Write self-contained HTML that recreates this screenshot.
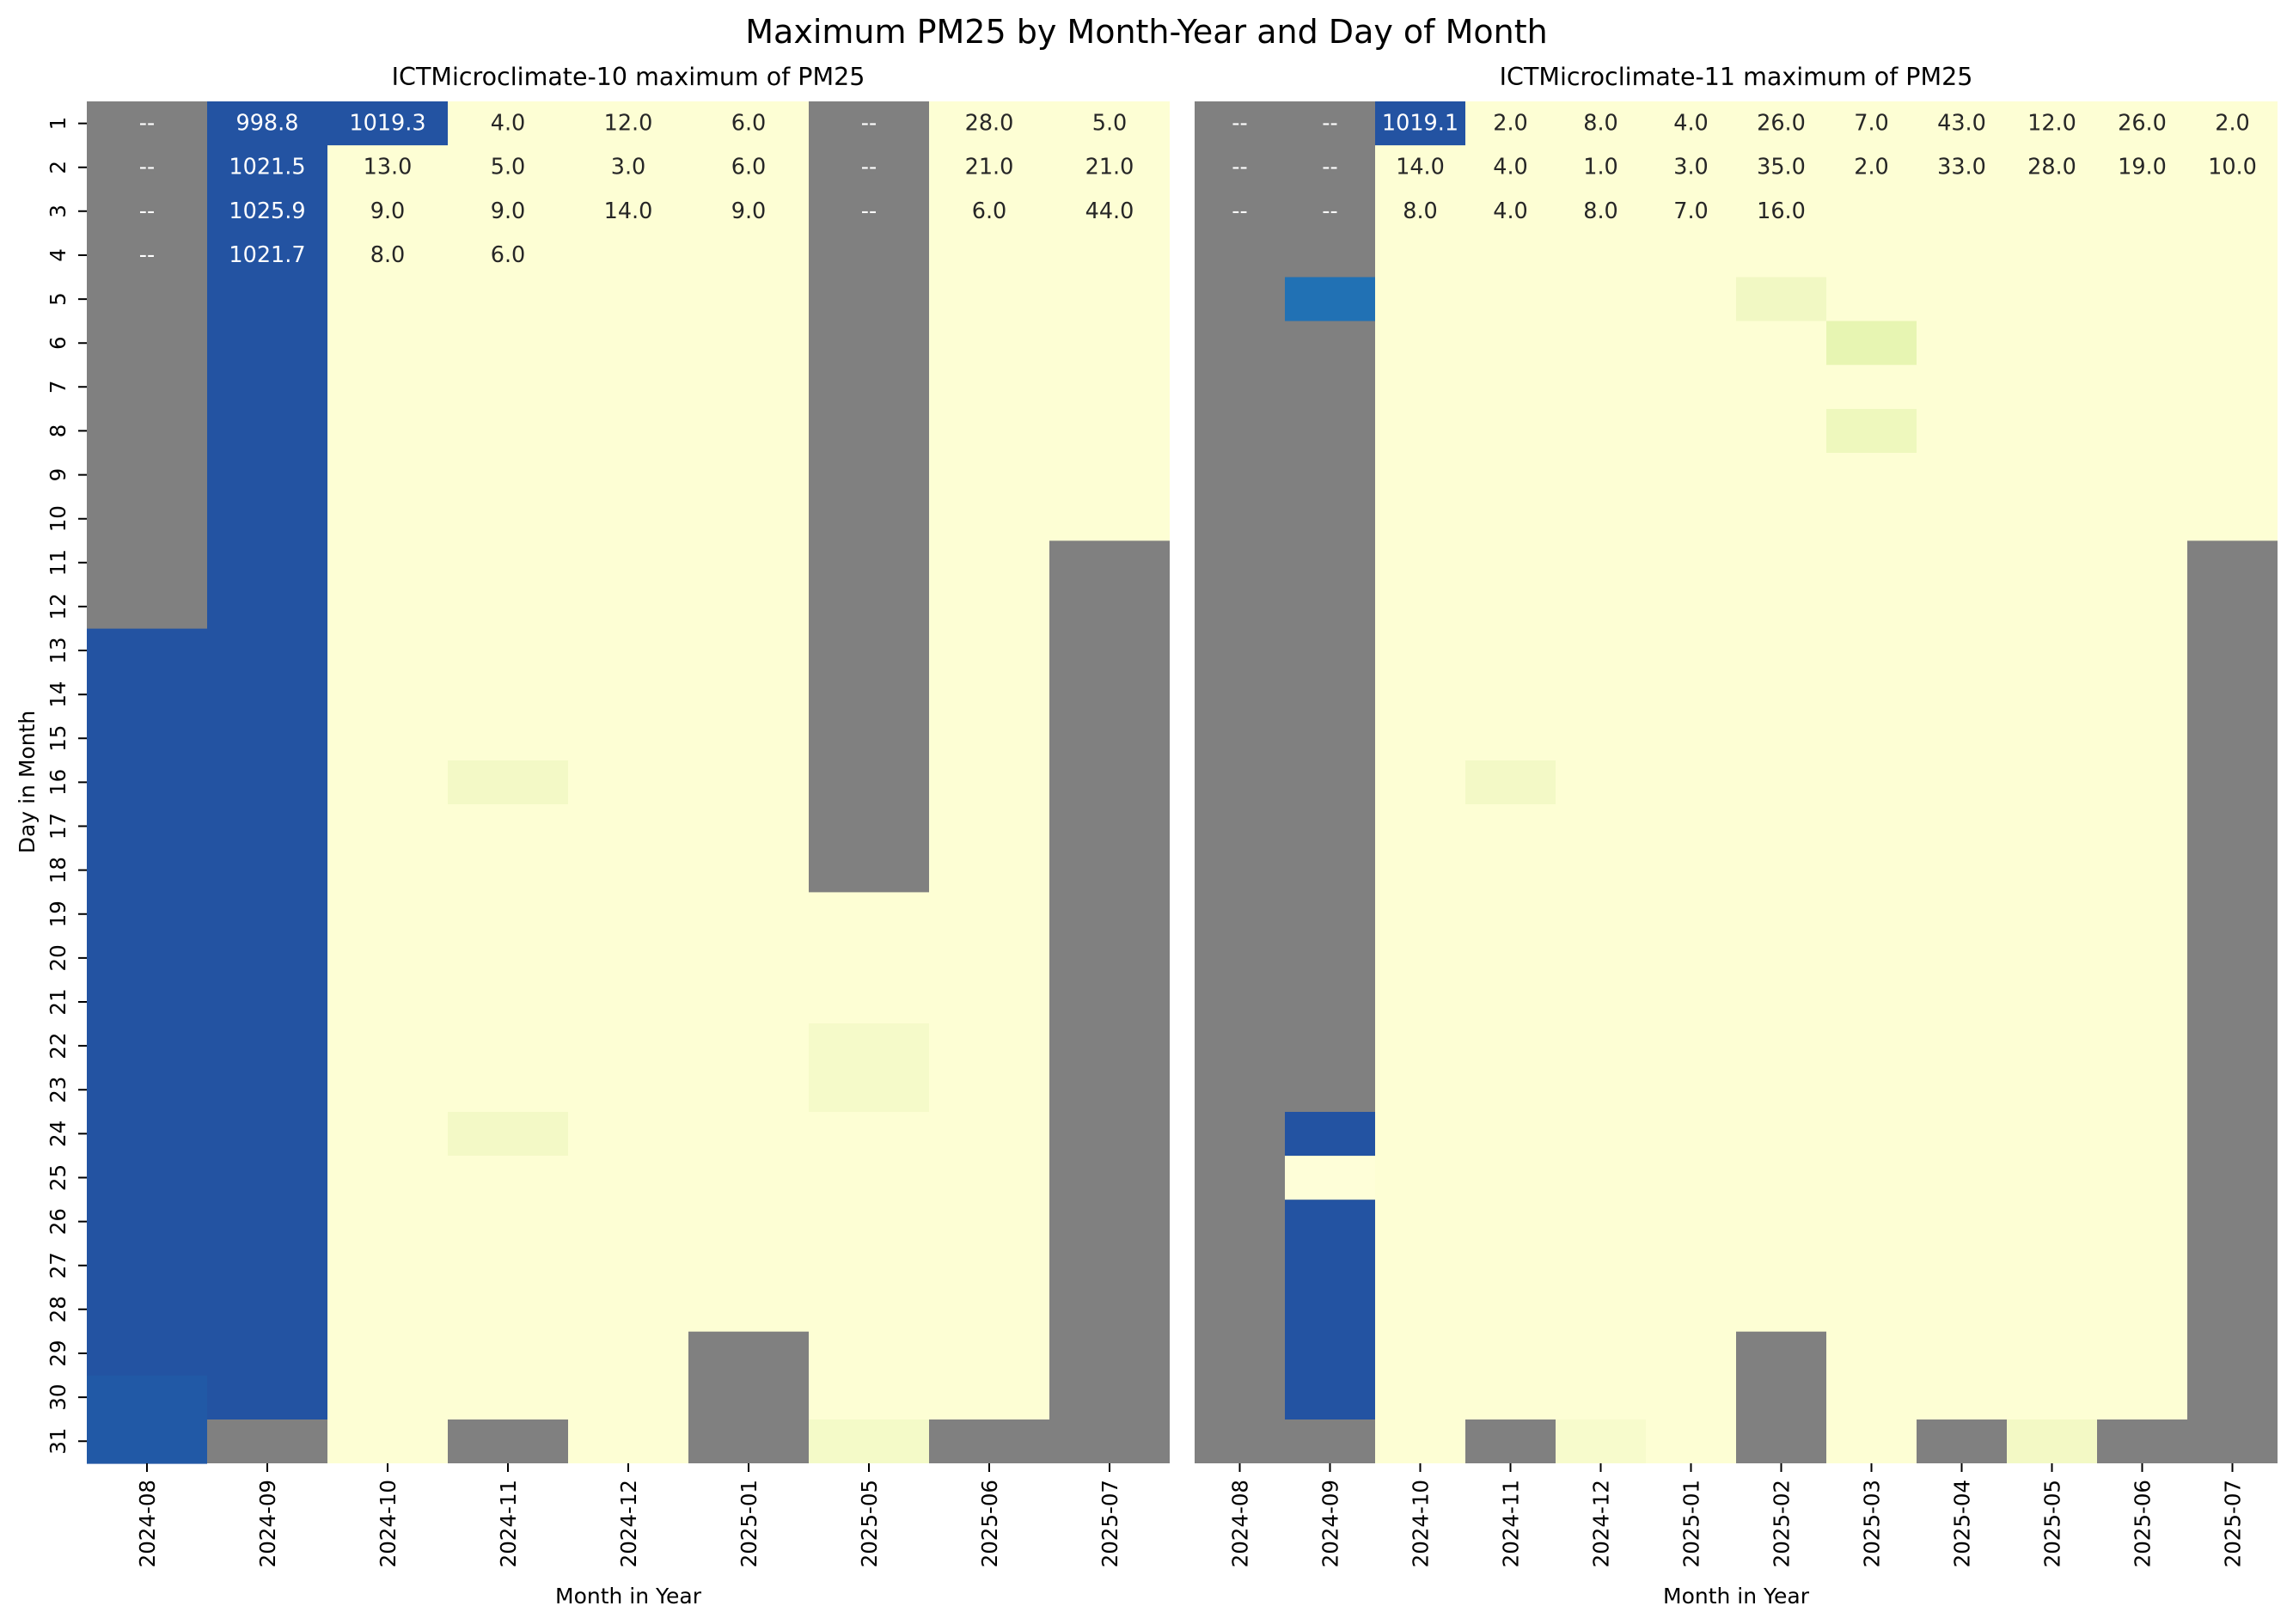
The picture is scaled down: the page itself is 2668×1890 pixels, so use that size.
<!DOCTYPE html>
<html><head><meta charset="utf-8"><style>
html,body{margin:0;padding:0;background:#fff;}
svg{display:block;font-family:"DejaVu Sans","Liberation Sans",sans-serif;}
.a{font-size:25.5px;text-anchor:middle;dominant-baseline:central;fill:#262626;}
.w{fill:#ffffff;}
.t{font-size:24.5px;fill:#000;}
</style></head><body>
<svg width="2668" height="1890" viewBox="0 0 2668 1890" xmlns="http://www.w3.org/2000/svg">
<rect width="2668" height="1890" fill="#fff"/>
<text x="1334" y="50" font-size="38" text-anchor="middle">Maximum PM25 by Month-Year and Day of Month</text>
<text x="731" y="99" font-size="28.5" text-anchor="middle">ICTMicroclimate-10 maximum of PM25</text>
<text x="2020" y="99" font-size="28.5" text-anchor="middle">ICTMicroclimate-11 maximum of PM25</text>

<!-- LEFT heatmap -->
<rect x="101" y="118" width="1260" height="1585" fill="#fdfed4"/>
<rect x="101" y="118" width="140" height="614" fill="#808080"/>
<rect x="101" y="731.6" width="140" height="972" fill="#2353a2"/>
<rect x="101" y="1600.8" width="140" height="102.2" fill="#2159a6"/>
<rect x="241" y="118" width="140" height="1534" fill="#2353a2"/>
<rect x="241" y="1652" width="140" height="51" fill="#808080"/>
<rect x="381" y="118" width="140" height="51.1" fill="#2353a2"/>
<rect x="521" y="885" width="140" height="51" fill="#f3f9c6"/>
<rect x="521" y="1294" width="140" height="51" fill="#f3f9c6"/>
<rect x="521" y="1652" width="140" height="51" fill="#808080"/>
<rect x="801" y="1549.7" width="140" height="153.3" fill="#808080"/>
<rect x="941" y="118" width="140" height="920.4" fill="#808080"/>
<rect x="941" y="1652" width="140" height="51" fill="#f4fac8"/>
<rect x="941" y="1191" width="140" height="103" fill="#f5fac9"/>
<rect x="1081" y="1652" width="140" height="51" fill="#808080"/>
<rect x="1221" y="629.3" width="140" height="1073.7" fill="#808080"/>

<!-- RIGHT heatmap -->
<rect x="1390" y="118" width="1260" height="1585" fill="#fdfed4"/>
<rect x="1390" y="118" width="105" height="1585" fill="#808080"/>
<rect x="1495" y="118" width="105" height="1585" fill="#808080"/>
<rect x="1495" y="322.5" width="105" height="51.1" fill="#2171b4"/>
<rect x="1495" y="1294" width="105" height="51.1" fill="#2353a2"/>
<rect x="1495" y="1345.1" width="105" height="51.1" fill="#fefed8"/>
<rect x="1495" y="1396.3" width="105" height="255.7" fill="#2353a2"/>
<rect x="1600" y="118" width="105" height="51.1" fill="#2353a2"/>
<rect x="1705" y="885" width="105" height="51" fill="#f3f9c6"/>
<rect x="1705" y="1652" width="105" height="51" fill="#808080"/>
<rect x="1810" y="1652" width="105" height="51" fill="#f7fbcc"/>
<rect x="2020" y="322.5" width="105" height="51.1" fill="#f1f8c3"/>
<rect x="2020" y="1549.7" width="105" height="153.3" fill="#808080"/>
<rect x="2125" y="373.6" width="105" height="51.1" fill="#e7f5b2"/>
<rect x="2125" y="475.9" width="105" height="51.1" fill="#eef8bd"/>
<rect x="2230" y="1652" width="105" height="51" fill="#808080"/>
<rect x="2335" y="1652" width="105" height="51" fill="#f3f9c5"/>
<rect x="2440" y="1652" width="105" height="51" fill="#808080"/>
<rect x="2545" y="629.3" width="105" height="1073.7" fill="#808080"/>

<g class="a">
<text x="171" y="143.6" class="a w">--</text><text x="171" y="194.7" class="a w">--</text><text x="171" y="245.8" class="a w">--</text><text x="171" y="297" class="a w">--</text>
<text x="311" y="143.6" class="a w">998.8</text><text x="311" y="194.7" class="a w">1021.5</text><text x="311" y="245.8" class="a w">1025.9</text><text x="311" y="297" class="a w">1021.7</text>
<text x="451" y="143.6" class="a w">1019.3</text><text x="451" y="194.7" class="a">13.0</text><text x="451" y="245.8" class="a">9.0</text><text x="451" y="297" class="a">8.0</text>
<text x="591" y="143.6" class="a">4.0</text><text x="591" y="194.7" class="a">5.0</text><text x="591" y="245.8" class="a">9.0</text><text x="591" y="297" class="a">6.0</text>
<text x="731" y="143.6" class="a">12.0</text><text x="731" y="194.7" class="a">3.0</text><text x="731" y="245.8" class="a">14.0</text>
<text x="871" y="143.6" class="a">6.0</text><text x="871" y="194.7" class="a">6.0</text><text x="871" y="245.8" class="a">9.0</text>
<text x="1011" y="143.6" class="a w">--</text><text x="1011" y="194.7" class="a w">--</text><text x="1011" y="245.8" class="a w">--</text>
<text x="1151" y="143.6" class="a">28.0</text><text x="1151" y="194.7" class="a">21.0</text><text x="1151" y="245.8" class="a">6.0</text>
<text x="1291" y="143.6" class="a">5.0</text><text x="1291" y="194.7" class="a">21.0</text><text x="1291" y="245.8" class="a">44.0</text>
</g>
<g>
<text x="1442.5" y="143.6" class="a w">--</text><text x="1442.5" y="194.7" class="a w">--</text><text x="1442.5" y="245.8" class="a w">--</text>
<text x="1547.5" y="143.6" class="a w">--</text><text x="1547.5" y="194.7" class="a w">--</text><text x="1547.5" y="245.8" class="a w">--</text>
<text x="1652.5" y="143.6" class="a w">1019.1</text><text x="1652.5" y="194.7" class="a">14.0</text><text x="1652.5" y="245.8" class="a">8.0</text>
<text x="1757.5" y="143.6" class="a">2.0</text><text x="1757.5" y="194.7" class="a">4.0</text><text x="1757.5" y="245.8" class="a">4.0</text>
<text x="1862.5" y="143.6" class="a">8.0</text><text x="1862.5" y="194.7" class="a">1.0</text><text x="1862.5" y="245.8" class="a">8.0</text>
<text x="1967.5" y="143.6" class="a">4.0</text><text x="1967.5" y="194.7" class="a">3.0</text><text x="1967.5" y="245.8" class="a">7.0</text>
<text x="2072.5" y="143.6" class="a">26.0</text><text x="2072.5" y="194.7" class="a">35.0</text><text x="2072.5" y="245.8" class="a">16.0</text>
<text x="2177.5" y="143.6" class="a">7.0</text><text x="2177.5" y="194.7" class="a">2.0</text>
<text x="2282.5" y="143.6" class="a">43.0</text><text x="2282.5" y="194.7" class="a">33.0</text>
<text x="2387.5" y="143.6" class="a">12.0</text><text x="2387.5" y="194.7" class="a">28.0</text>
<text x="2492.5" y="143.6" class="a">26.0</text><text x="2492.5" y="194.7" class="a">19.0</text>
<text x="2597.5" y="143.6" class="a">2.0</text><text x="2597.5" y="194.7" class="a">10.0</text>
</g>

<g stroke="#000" stroke-width="2">
<path d="M91 143.6h10M91 194.7h10M91 245.8h10M91 297h10M91 348.1h10M91 399.2h10M91 450.3h10M91 501.4h10M91 552.6h10M91 603.7h10M91 654.8h10M91 705.9h10M91 757h10M91 808.2h10M91 859.3h10M91 910.4h10M91 961.5h10M91 1012.6h10M91 1063.8h10M91 1114.9h10M91 1166h10M91 1217.1h10M91 1268.2h10M91 1319.4h10M91 1370.5h10M91 1421.6h10M91 1472.7h10M91 1523.8h10M91 1575h10M91 1626.1h10M91 1677.2h10"/>
<path d="M171 1703v10M311 1703v10M451 1703v10M591 1703v10M731 1703v10M871 1703v10M1011 1703v10M1151 1703v10M1291 1703v10"/>
<path d="M1442.5 1703v10M1547.5 1703v10M1652.5 1703v10M1757.5 1703v10M1862.5 1703v10M1967.5 1703v10M2072.5 1703v10M2177.5 1703v10M2282.5 1703v10M2387.5 1703v10M2492.5 1703v10M2597.5 1703v10"/>
</g>
<g class="t" text-anchor="middle">
<text transform="translate(76 143.6) rotate(-90)">1</text>
<text transform="translate(76 194.7) rotate(-90)">2</text>
<text transform="translate(76 245.8) rotate(-90)">3</text>
<text transform="translate(76 297) rotate(-90)">4</text>
<text transform="translate(76 348.1) rotate(-90)">5</text>
<text transform="translate(76 399.2) rotate(-90)">6</text>
<text transform="translate(76 450.3) rotate(-90)">7</text>
<text transform="translate(76 501.4) rotate(-90)">8</text>
<text transform="translate(76 552.6) rotate(-90)">9</text>
<text transform="translate(76 603.7) rotate(-90)">10</text>
<text transform="translate(76 654.8) rotate(-90)">11</text>
<text transform="translate(76 705.9) rotate(-90)">12</text>
<text transform="translate(76 757) rotate(-90)">13</text>
<text transform="translate(76 808.2) rotate(-90)">14</text>
<text transform="translate(76 859.3) rotate(-90)">15</text>
<text transform="translate(76 910.4) rotate(-90)">16</text>
<text transform="translate(76 961.5) rotate(-90)">17</text>
<text transform="translate(76 1012.6) rotate(-90)">18</text>
<text transform="translate(76 1063.8) rotate(-90)">19</text>
<text transform="translate(76 1114.9) rotate(-90)">20</text>
<text transform="translate(76 1166) rotate(-90)">21</text>
<text transform="translate(76 1217.1) rotate(-90)">22</text>
<text transform="translate(76 1268.2) rotate(-90)">23</text>
<text transform="translate(76 1319.4) rotate(-90)">24</text>
<text transform="translate(76 1370.5) rotate(-90)">25</text>
<text transform="translate(76 1421.6) rotate(-90)">26</text>
<text transform="translate(76 1472.7) rotate(-90)">27</text>
<text transform="translate(76 1523.8) rotate(-90)">28</text>
<text transform="translate(76 1575) rotate(-90)">29</text>
<text transform="translate(76 1626.1) rotate(-90)">30</text>
<text transform="translate(76 1677.2) rotate(-90)">31</text>
</g>
<g class="t" text-anchor="end">
<text transform="translate(180 1722) rotate(-90)">2024-08</text>
<text transform="translate(320 1722) rotate(-90)">2024-09</text>
<text transform="translate(460 1722) rotate(-90)">2024-10</text>
<text transform="translate(600 1722) rotate(-90)">2024-11</text>
<text transform="translate(740 1722) rotate(-90)">2024-12</text>
<text transform="translate(880 1722) rotate(-90)">2025-01</text>
<text transform="translate(1020 1722) rotate(-90)">2025-05</text>
<text transform="translate(1160 1722) rotate(-90)">2025-06</text>
<text transform="translate(1300 1722) rotate(-90)">2025-07</text>
<text transform="translate(1451.5 1722) rotate(-90)">2024-08</text>
<text transform="translate(1556.5 1722) rotate(-90)">2024-09</text>
<text transform="translate(1661.5 1722) rotate(-90)">2024-10</text>
<text transform="translate(1766.5 1722) rotate(-90)">2024-11</text>
<text transform="translate(1871.5 1722) rotate(-90)">2024-12</text>
<text transform="translate(1976.5 1722) rotate(-90)">2025-01</text>
<text transform="translate(2081.5 1722) rotate(-90)">2025-02</text>
<text transform="translate(2186.5 1722) rotate(-90)">2025-03</text>
<text transform="translate(2291.5 1722) rotate(-90)">2025-04</text>
<text transform="translate(2396.5 1722) rotate(-90)">2025-05</text>
<text transform="translate(2501.5 1722) rotate(-90)">2025-06</text>
<text transform="translate(2606.5 1722) rotate(-90)">2025-07</text>
</g>
<text x="731" y="1866" font-size="25" text-anchor="middle">Month in Year</text>
<text x="2020" y="1866" font-size="25" text-anchor="middle">Month in Year</text>
<text transform="translate(40 910) rotate(-90)" font-size="25" text-anchor="middle">Day in Month</text>
</svg>
</body></html>
